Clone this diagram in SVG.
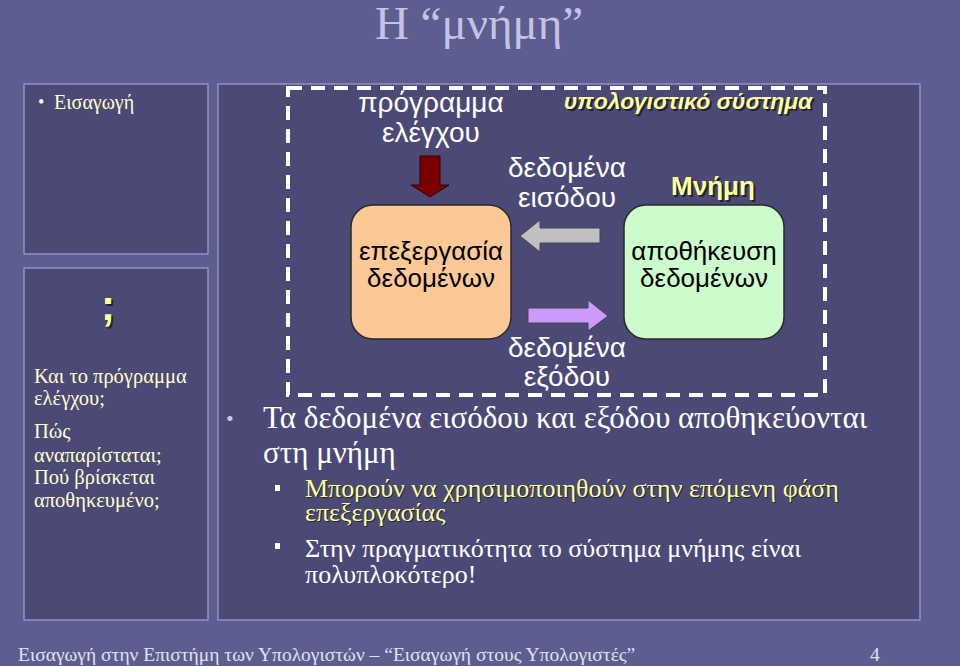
<svg xmlns="http://www.w3.org/2000/svg" width="960" height="666" viewBox="0 0 960 666">
<defs>
<style>
.panel{fill:#4b4a77;stroke:#9090c4;stroke-width:1.5}
.serif{font-family:"Liberation Serif","DejaVu Serif",serif}
.sans{font-family:"Liberation Sans","DejaVu Sans",sans-serif}
.wt{fill:#ffffff}
.lbl{font-family:"Liberation Sans","DejaVu Sans",sans-serif;font-size:28px;text-anchor:middle}
.box{font-family:"Liberation Sans","DejaVu Sans",sans-serif;font-size:26px;text-anchor:middle;fill:#000000}
</style>
</defs>
<rect width="960" height="666" fill="#5e5d8f"/>
<text class="serif" x="479" y="39" font-size="47" text-anchor="middle" fill="#c4c3e6">Η “μνήμη”</text>

<g id="panel-intro">
<rect class="panel" x="24" y="84" width="184" height="170"/>
<text class="serif" x="38" y="108" font-size="18" fill="#ffffcc">•</text>
<text class="serif" x="54" y="109" font-size="20" fill="#ffffcc">Εισαγωγή</text>
</g>

<g id="panel-questions">
<rect class="panel" x="24" y="268" width="184" height="352"/>
<text class="sans" x="110" y="322" font-size="42" font-weight="bold" text-anchor="middle" fill="#222233">;</text>
<text class="sans" x="108" y="320" font-size="42" font-weight="bold" text-anchor="middle" fill="#ffff99">;</text>
<g class="serif" font-size="20.5" fill="#ffffcc">
<text x="34" y="383">Και το πρόγραμμα</text>
<text x="34" y="405">ελέγχου;</text>
<text x="34" y="438">Πώς</text>
<text x="34" y="462">αναπαρίσταται;</text>
<text x="34" y="484">Πού βρίσκεται</text>
<text x="34" y="507">αποθηκευμένο;</text>
</g>
</g>

<g id="panel-main">
<rect class="panel" x="218" y="84" width="702" height="536"/>
</g>

<g id="system-frame">
<rect x="288" y="88" width="537" height="307" fill="none" stroke="#ffffff" stroke-width="4" stroke-dasharray="14 9"/>
<text class="sans" x="690" y="111" font-size="23" font-weight="bold" font-style="italic" text-anchor="middle" fill="#222233">υπολογιστικό σύστημα</text>
<text class="sans" x="688" y="109" font-size="23" font-weight="bold" font-style="italic" text-anchor="middle" fill="#ffff99">υπολογιστικό σύστημα</text>
</g>

<g id="control-program">
<text class="lbl wt" x="431" y="112">πρόγραμμα</text>
<text class="lbl wt" x="431" y="142">ελέγχου</text>
</g>

<g id="processing">
<rect x="351" y="205" width="160" height="134" rx="22" fill="#fbc896" stroke="#2a2a2a" stroke-width="1.5"/>
<text class="box" x="431" y="260">επεξεργασία</text>
<text class="box" x="431" y="287">δεδομένων</text>
</g>

<g id="memory">
<text class="sans" x="715" y="197" font-size="26" font-weight="bold" text-anchor="middle" fill="#222233">Μνήμη</text>
<text class="sans" x="713" y="195" font-size="26" font-weight="bold" text-anchor="middle" fill="#ffff99">Μνήμη</text>
<rect x="624" y="205" width="160" height="134" rx="22" fill="#ccfccc" stroke="#2a2a2a" stroke-width="1.5"/>
<text class="box" x="704" y="260">αποθήκευση</text>
<text class="box" x="704" y="287">δεδομένων</text>
</g>

<g id="connectors">
<polygon points="420,156 440,156 440,185 449,185 430,197 411,185 420,185" fill="#7a0000" stroke="#330000" stroke-width="1"/>
<polygon points="600,228 600,243 540,243 540,252 520,236 540,220 540,228" fill="#c0c0c0" stroke="#444" stroke-width="1"/>
<polygon points="528,308 588,308 588,300 608,316 588,331 588,323 528,323" fill="#cc99ff" stroke="#444" stroke-width="1"/>
<text class="lbl wt" x="567" y="177">δεδομένα</text>
<text class="lbl wt" x="567" y="207">εισόδου</text>
<text class="lbl wt" x="567" y="357">δεδομένα</text>
<text class="lbl wt" x="567" y="386">εξόδου</text>
</g>

<g id="bullets" class="serif">
<text x="226" y="426" font-size="22" fill="#c8c8e8">•</text>
<text x="263" y="428" font-size="31" fill="#ffffff">Τα δεδομένα εισόδου και εξόδου αποθηκεύονται</text>
<text x="263" y="463" font-size="31" fill="#ffffff">στη μνήμη</text>
<rect x="275" y="485" width="5" height="6" fill="#ffffff"/>
<g font-size="26">
<text x="306" y="498" fill="#222233">Μπορούν να χρησιμοποιηθούν στην επόμενη φάση</text>
<text x="305" y="497" fill="#ffff99">Μπορούν να χρησιμοποιηθούν στην επόμενη φάση</text>
<text x="306" y="522" fill="#222233">επεξεργασίας</text>
<text x="305" y="521" fill="#ffff99">επεξεργασίας</text>
</g>
<rect x="275" y="543" width="5" height="6" fill="#ffffff"/>
<text x="305" y="557" font-size="26" fill="#ffffff">Στην πραγματικότητα το σύστημα μνήμης είναι</text>
<text x="305" y="583" font-size="26" fill="#ffffff">πολυπλοκότερο!</text>
</g>

<g id="footer" class="serif" font-size="19.5" fill="#e0e0f4">
<text x="18" y="661">Εισαγωγή στην Επιστήμη των Υπολογιστών – “Εισαγωγή στους Υπολογιστές”</text>
<text x="870" y="661">4</text>
</g>
</svg>
